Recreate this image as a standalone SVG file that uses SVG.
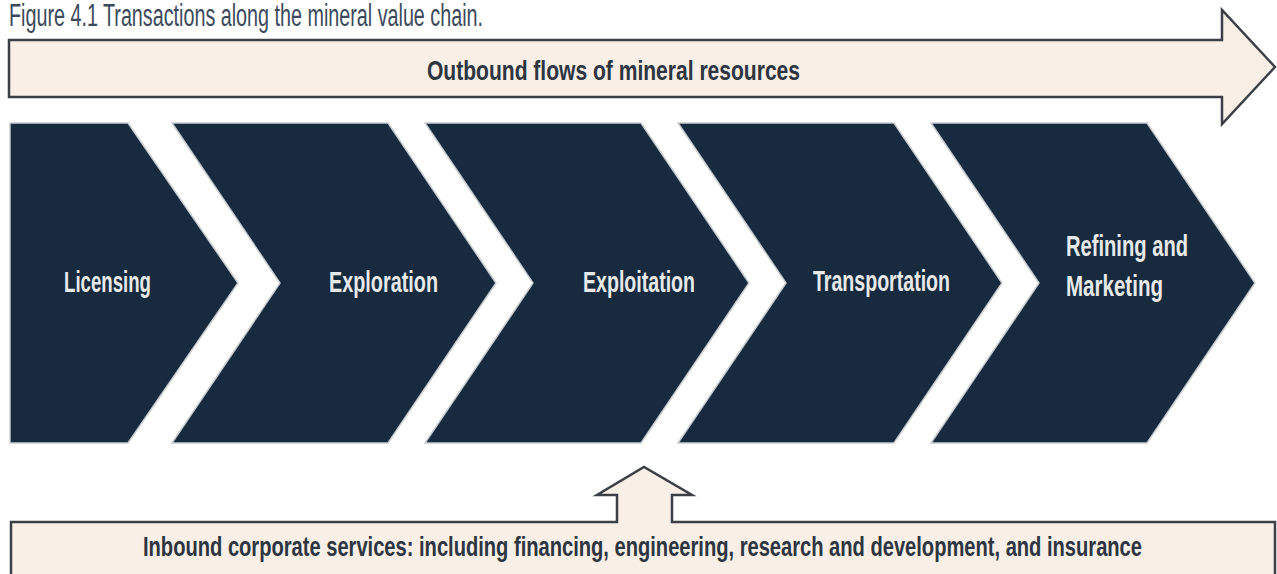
<svg xmlns="http://www.w3.org/2000/svg" width="1277" height="574" viewBox="0 0 1277 574">
<style>
.bg{fill:#ffffff}
.chev{fill:#172a3e;stroke:#c9cdd2;stroke-width:1.5;stroke-linejoin:miter}
.flow{fill:#f9efe6;stroke:#3b4047;stroke-width:2.5;stroke-linejoin:miter}
.fillonly{fill:#f9efe6;stroke:none}
.edge{fill:none;stroke:#3b4047;stroke-width:2.5;stroke-linejoin:miter}
.lbl{font-family:"Liberation Sans",Arial,sans-serif;font-weight:bold;font-size:30px;fill:#e8e9ea}
.dark{font-family:"Liberation Sans",Arial,sans-serif;font-weight:bold;font-size:28px;fill:#2c3540}
.title{font-family:"Liberation Sans",Arial,sans-serif;font-size:31px;fill:#3c4a5b}
</style>
<rect class="bg" x="0" y="0" width="1277" height="574"/>
<text class="title" x="9" y="26" textLength="474" lengthAdjust="spacingAndGlyphs">Figure 4.1 Transactions along the mineral value chain.</text>
<g id="connectors">
<g id="outbound">
<path class="flow" d="M9,40 L1222,40 L1222,10 L1275,67 L1222,124 L1222,97 L9,97 Z"/>
<text class="dark" x="427" y="80" textLength="373" lengthAdjust="spacingAndGlyphs">Outbound flows of mineral resources</text>
</g>
<g id="inbound">
<path class="fillonly" d="M11,574 L11,522 L617,522 L617,495 L597,495 L644,467 L692,495 L672,495 L672,522 L1275,522 L1275,574 Z"/>
<path class="edge" d="M11,574 L11,522 L617,522 L617,495 L597,495 L644,467 L692,495 L672,495 L672,522 L1275,522 L1275,574"/>
<text class="dark" transform="translate(143,556) scale(0.75,1)" x="0" y="0" textLength="1332" lengthAdjust="spacingAndGlyphs">Inbound corporate services: including financing, engineering, research and development, and insurance</text>
</g>
</g>
<g id="licensing">
<path class="chev" d="M10,123 L128,123 L238,283 L128,443 L10,443 Z"/>
<text class="lbl" x="64" y="292" textLength="87" lengthAdjust="spacingAndGlyphs">Licensing</text>
</g>
<g id="exploration">
<path class="chev" d="M172,123 L388,123 L496,283 L388,443 L172,443 L280,283 Z"/>
<text class="lbl" x="329" y="292" textLength="109" lengthAdjust="spacingAndGlyphs">Exploration</text>
</g>
<g id="exploitation">
<path class="chev" d="M425,123 L641,123 L749,283 L641,443 L425,443 L533,283 Z"/>
<text class="lbl" x="583" y="292" textLength="112" lengthAdjust="spacingAndGlyphs">Exploitation</text>
</g>
<g id="transportation">
<path class="chev" d="M678,123 L894,123 L1002,283 L894,443 L678,443 L786,283 Z"/>
<text class="lbl" x="813" y="291" textLength="137" lengthAdjust="spacingAndGlyphs">Transportation</text>
</g>
<g id="refining">
<path class="chev" d="M931,123 L1147,123 L1255,283 L1147,443 L931,443 L1039,283 Z"/>
<text class="lbl" x="1066" y="256" textLength="122" lengthAdjust="spacingAndGlyphs">Refining and</text>
<text class="lbl" x="1066" y="296" textLength="97" lengthAdjust="spacingAndGlyphs">Marketing</text>
</g>
</svg>
